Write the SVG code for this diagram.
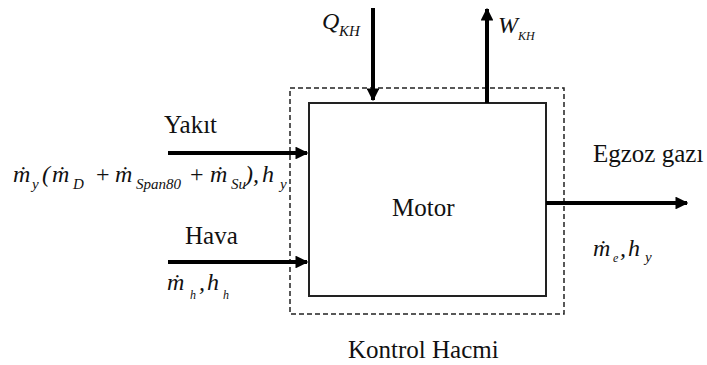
<svg xmlns="http://www.w3.org/2000/svg" width="707" height="365" viewBox="0 0 707 365">
<style>
.lbl{font-size:25px;fill:#111}
.m{font-style:italic;font-size:24px;fill:#111}
.s{font-size:15px}
.ss{font-size:12px}
.arr{stroke:#000;stroke-width:4;fill:none}
</style>
<defs>
<marker id="ah" viewBox="0 0 10 10" refX="9" refY="5" markerWidth="3.2" markerHeight="3.2" orient="auto" markerUnits="strokeWidth">
<path d="M0,0 L10,5 L0,10 Z" fill="#000"/>
</marker>
</defs>
<rect width="707" height="365" fill="#fff"/>
<g id="kontrol-hacmi">
<rect x="290" y="88" width="274" height="226" fill="none" stroke="#222" stroke-width="1.5" stroke-dasharray="5,3"/>
<text class="lbl" font-family="Liberation Serif, serif" x="348" y="358">Kontrol Hacmi</text>
</g>
<g id="motor">
<rect x="309" y="103" width="237" height="193" fill="none" stroke="#222" stroke-width="2"/>
<text class="lbl" font-family="Liberation Serif, serif" x="392" y="216">Motor</text>
</g>
<g id="connectors">
<line class="arr" x1="373" y1="8" x2="373" y2="100" marker-end="url(#ah)"/>
<line class="arr" x1="487" y1="103" x2="487" y2="9" marker-end="url(#ah)"/>
<line class="arr" x1="168" y1="153" x2="307" y2="153" marker-end="url(#ah)"/>
<line class="arr" x1="168" y1="262" x2="307" y2="262" marker-end="url(#ah)"/>
<line class="arr" x1="546" y1="203" x2="687" y2="203" marker-end="url(#ah)"/>
</g>
<g id="q-label">
<text class="m" font-family="Liberation Serif, serif" x="322" y="29">Q<tspan class="s" x="339" y="36">KH</tspan></text>
</g>
<g id="w-label">
<text class="m" font-family="Liberation Serif, serif" x="498" y="33">W<tspan class="ss" x="518" y="40">KH</tspan></text>
</g>
<g id="yakit">
<text class="lbl" font-family="Liberation Serif, serif" x="164" y="133">Yakıt</text>
<text class="m" font-family="Liberation Serif, serif" x="13" y="182">ṁ<tspan class="s" x="32" y="189">y</tspan><tspan x="42" y="182">(</tspan><tspan x="52" y="182">ṁ</tspan><tspan class="s" x="73" y="189">D</tspan><tspan x="96" y="182" font-style="normal">+</tspan><tspan x="115" y="182">ṁ</tspan><tspan class="s" x="136" y="189">Span80</tspan><tspan x="190" y="182" font-style="normal">+</tspan><tspan x="210" y="182">ṁ</tspan><tspan class="s" x="231" y="189">Su</tspan><tspan x="245" y="182">),</tspan><tspan x="262" y="182">h</tspan><tspan class="s" x="280" y="189">y</tspan></text>
</g>
<g id="hava">
<text class="lbl" font-family="Liberation Serif, serif" x="185" y="244">Hava</text>
<text class="m" font-family="Liberation Serif, serif" x="167" y="290">ṁ<tspan class="ss" x="190" y="299">h</tspan><tspan x="199" y="290">,</tspan><tspan x="207" y="290">h</tspan><tspan class="ss" x="223" y="299">h</tspan></text>
</g>
<g id="egzoz">
<text class="lbl" font-family="Liberation Serif, serif" x="593" y="162">Egzoz gazı</text>
<text class="m" font-family="Liberation Serif, serif" x="593" y="256">ṁ<tspan class="ss" x="613" y="262">e</tspan><tspan x="620" y="256">,</tspan><tspan x="628" y="256">h</tspan><tspan class="s" x="645" y="262">y</tspan></text>
</g>
</svg>
